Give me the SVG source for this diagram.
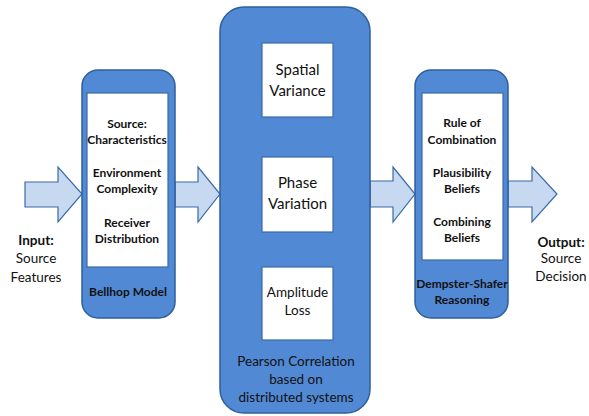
<svg xmlns="http://www.w3.org/2000/svg" width="589" height="416" viewBox="0 0 589 416">
<style>
.panel{fill:#5189d4;stroke:#2f5f9c;stroke-width:1.5}
.inner{fill:#ffffff;stroke:#3a6aa6;stroke-width:1.2}
.arrow{fill:#c6d9f0;stroke:#3a6aa6;stroke-width:1.2}
text{font-family:Lato,"Liberation Sans",sans-serif;fill:#111;text-anchor:middle}
.b{font-weight:bold;font-size:12px}
.m{font-size:15px}
.s{font-size:13.5px}
.io{font-size:13.5px}
</style>
<rect width="589" height="416" fill="#ffffff"/>
<g id="connectors">
<polygon class="arrow" points="25,182 58,182 58,167 82,194 58,222 58,207 25,207"/>
<polygon class="arrow" points="175,182 198,182 198,167 220,194 198,222 198,207 175,207"/>
<polygon class="arrow" points="370,181 393,181 393,167 415,194 393,222 393,207 370,207"/>
<polygon class="arrow" points="508,181 532,181 532,167 557,194 532,222 532,207 508,207"/>
</g>
<g id="input">
<text class="io" x="36" y="245" font-weight="bold">Input:</text>
<text class="io" x="36" y="263">Source</text>
<text class="io" x="36" y="282">Features</text>
</g>
<g id="bellhop">
<rect class="panel" x="82" y="70" width="93" height="248" rx="16"/>
<rect class="inner" x="87" y="93" width="81" height="174"/>
<text class="b" x="127" y="128">Source:</text>
<text class="b" x="127" y="144">Characteristics</text>
<text class="b" x="127" y="177">Environment</text>
<text class="b" x="127" y="193">Complexity</text>
<text class="b" x="127" y="227">Receiver</text>
<text class="b" x="127" y="243">Distribution</text>
<text class="b" x="128" y="296">Bellhop Model</text>
</g>
<g id="pearson">
<rect class="panel" x="220" y="7" width="150" height="406" rx="24"/>
<g id="spatial">
<rect class="inner" x="262" y="43" width="71" height="74"/>
<text class="m" x="297.5" y="75">Spatial</text>
<text class="m" x="297.5" y="96">Variance</text>
</g>
<g id="phase">
<rect class="inner" x="262" y="157" width="71" height="75"/>
<text class="m" x="297.5" y="188">Phase</text>
<text class="m" x="297.5" y="209">Variation</text>
</g>
<g id="amplitude">
<rect class="inner" x="262" y="267" width="71" height="73"/>
<text class="s" x="297.5" y="297">Amplitude</text>
<text class="s" x="297.5" y="315">Loss</text>
</g>
<text class="s" x="296" y="366">Pearson Correlation</text>
<text class="s" x="296" y="384">based on</text>
<text class="s" x="296" y="402">distributed systems</text>
</g>
<g id="dempster">
<rect class="panel" x="415" y="70" width="93" height="248" rx="16"/>
<rect class="inner" x="422" y="93" width="81" height="167"/>
<text class="b" x="462" y="127">Rule of</text>
<text class="b" x="462" y="144">Combination</text>
<text class="b" x="462" y="177">Plausibility</text>
<text class="b" x="462" y="193">Beliefs</text>
<text class="b" x="462" y="226">Combining</text>
<text class="b" x="462" y="242">Beliefs</text>
<text class="b" x="462" y="288">Dempster-Shafer</text>
<text class="b" x="462" y="304">Reasoning</text>
</g>
<g id="output">
<text class="io" x="561" y="247" font-weight="bold">Output:</text>
<text class="io" x="561" y="263">Source</text>
<text class="io" x="561" y="281">Decision</text>
</g>
</svg>
